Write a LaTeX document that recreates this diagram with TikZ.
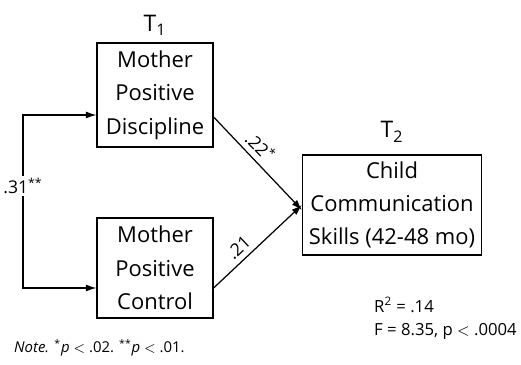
\documentclass[tikz,border=0pt]{standalone}
\usepackage{fontspec}
\setmainfont{Open Sans}
\usetikzlibrary{arrows.meta, positioning, calc}

\begin{document}
\begin{tikzpicture}[x=0.02cm, y=-0.02cm,
    box/.style={draw, line width=0.7pt, align=center, inner sep=0pt,
        font=\fontsize{12.5}{19}\selectfont},
    path/.style={line width=0.7pt, -{Latex[length=6pt, width=4pt]}},
    coef/.style={font=\fontsize{10}{12}\selectfont, inner sep=1pt}]
    \useasboundingbox (0,0) rectangle (521,365);

    % time labels
    \node[font=\fontsize{13}{15}\selectfont] (t1) at (155,25) {T\textsubscript{1}};
    \node[font=\fontsize{13}{15}\selectfont] (t2) at (392,132) {T\textsubscript{2}};

    % variables
    \node[box, minimum width=116*0.02cm, minimum height=104*0.02cm] (disc) at (155,95)
        {Mother\\Positive\\Discipline};
    \node[box, minimum width=116*0.02cm, minimum height=100*0.02cm] (ctrl) at (155,268)
        {Mother\\Positive\\Control};
    \node[box, minimum width=179*0.02cm, minimum height=100*0.02cm] (comm) at (392,205)
        {Child\\Communication\\Skills (42-48 mo)};

    % correlation between predictors
    \node[coef, fill=white] (r31) at (23,186) {.31\textsuperscript{**}};
    \draw[path] (r31) |- ([yshift=-0.4cm]disc.west);
    \draw[path] (r31) |- ([yshift=-0.4cm]ctrl.west);

    % paths to outcome
    \draw[path] ([yshift=-0.44cm]disc.east) -- node[coef, pos=0.42, sloped, above=2pt] {.22\textsuperscript{*}}
        ([yshift=-0.1cm]comm.west);
    \draw[path] ([yshift=-0.4cm]ctrl.east) -- node[coef, pos=0.38, sloped, above=2pt] {.21}
        (comm.west);

    % fit statistics
    \node[font=\fontsize{9.5}{13}\selectfont, align=left, anchor=north west] (fit) at (368,291)
        {R\textsuperscript{2} = .14\\F = 8.35, p $<$ .0004};

    % note
    \node[font=\fontsize{8.5}{10}\selectfont, anchor=west] (note) at (8,348)
        {\textit{Note.} \textsuperscript{*}\textit{p} $<$ .02. \textsuperscript{**}\textit{p} $<$ .01.};
\end{tikzpicture}
\end{document}
